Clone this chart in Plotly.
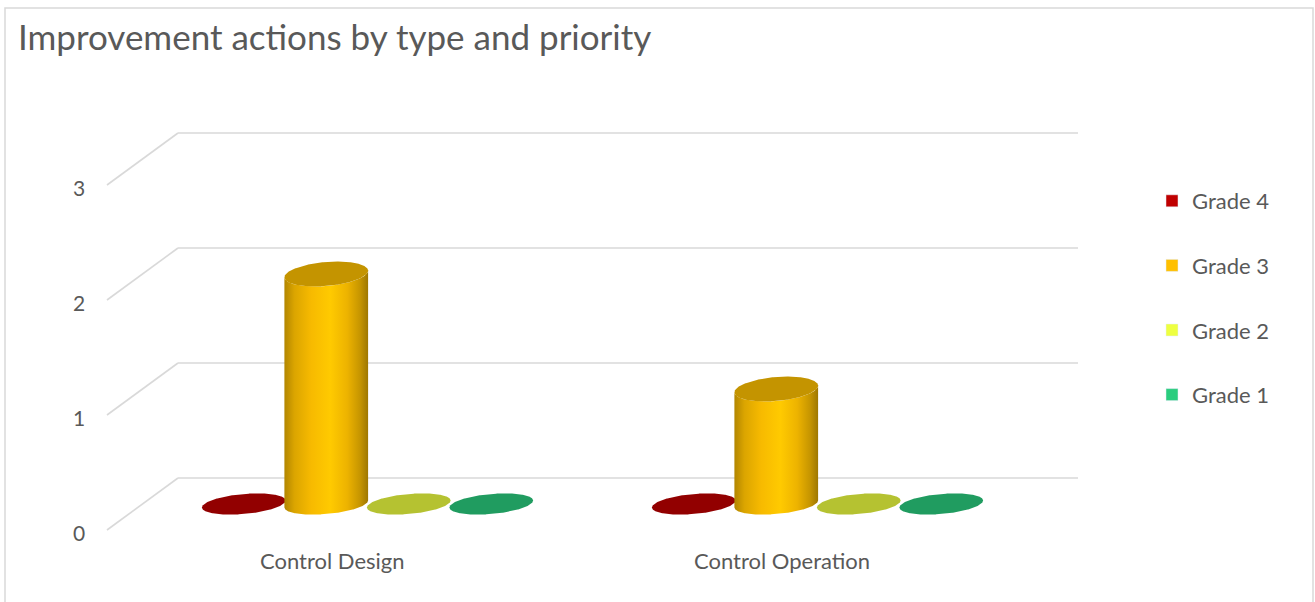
import numpy as np
import plotly.graph_objects as go

# ---------------- data ----------------
categories = ["Control Design", "Control Operation"]
series_names = ["Grade 4", "Grade 3", "Grade 2", "Grade 1"]
grade4 = [0, 0]
grade3 = [2, 1]
grade2 = [0, 0]
grade1 = [0, 0]
value_ticks = [0, 1, 2, 3]
tick_labels = ["0", "1", "2", "3"]

series_values = [grade4, grade3, grade2, grade1]
series_colors = ["#C00000", "#FFC000", "#EEFF41", "#2ACD7E"]

# ---------------- geometry (pixel scale of the 3D frame) ----------------
W, H = 1315, 602
PX_PER_CAT = 450.0      # pixels per category
PX_PER_VAL = 115.0      # pixels per value unit
ORIGIN_PX = (367.5, 504.0)  # pixel of (category 0, value 0) at mid depth
DEPTH_PX = (35.5, 26.0)     # half-depth offset (x right, y up)
SERIES_STEP_PX = 82.5
RAD_A_PX = 42.0
RAD_B_BOTTOM_PX = 10.0
RAD_B_TOP_PX = 12.0
TILT_DEG = 5.0

x_range = [(0 - ORIGIN_PX[0]) / PX_PER_CAT, (W - ORIGIN_PX[0]) / PX_PER_CAT]
y_range = [(ORIGIN_PX[1] - H) / PX_PER_VAL, ORIGIN_PX[1] / PX_PER_VAL]
DX = DEPTH_PX[0] / PX_PER_CAT
DY = DEPTH_PX[1] / PX_PER_VAL
X_LEFT, X_RIGHT = -0.5, len(categories) - 0.5

TEXT = "#595959"
GRID = "#D9D9D9"
FONT = "Lato"


def shade(hexcol, f):
    r, g, b = (int(hexcol[i:i + 2], 16) for i in (1, 3, 5))
    return "#%02X%02X%02X" % tuple(max(0, min(255, int(round(c * f)))) for c in (r, g, b))


def ellipse(cx, cy, b_px, n=360):
    t = np.linspace(0, 2 * np.pi, n, endpoint=False)
    th = np.radians(TILT_DEG)
    xp = RAD_A_PX * np.cos(t) * np.cos(th) - b_px * np.sin(t) * np.sin(th)
    yp = RAD_A_PX * np.cos(t) * np.sin(th) + b_px * np.sin(t) * np.cos(th)
    return cx + xp / PX_PER_CAT, cy + yp / PX_PER_VAL, xp


fig = go.Figure()

# ---------------- 3D frame grid lines ----------------
shapes = []
for v in value_ticks:
    shapes.append(dict(type="line", xref="x", yref="y",
                       x0=X_LEFT + DX, x1=X_RIGHT + DX, y0=v + DY, y1=v + DY,
                       line=dict(color=GRID, width=1.6), layer="below"))
    shapes.append(dict(type="line", xref="x", yref="y",
                       x0=X_LEFT - DX, x1=X_LEFT + DX, y0=v - DY, y1=v + DY,
                       line=dict(color=GRID, width=1.6), layer="below"))
# chart area border
shapes.append(dict(type="rect", xref="paper", yref="paper",
                   x0=5 / W, x1=1313 / W, y0=-0.05, y1=(H - 8) / H,
                   line=dict(color=GRID, width=1.5), layer="below"))

# ---------------- flat discs for zero values ----------------
n_series = len(series_names)
for j, (name, vals, col) in enumerate(zip(series_names, series_values, series_colors)):
    for i, v in enumerate(vals):
        if v == 0:
            cx = i + (j - (n_series - 1) / 2) * SERIES_STEP_PX / PX_PER_CAT
            ex, ey, _ = ellipse(cx, 0, RAD_B_BOTTOM_PX)
            fig.add_trace(go.Scatter(x=np.append(ex, ex[0]), y=np.append(ey, ey[0]),
                                     mode="lines", fill="toself", fillcolor=shade(col, 0.76),
                                     line=dict(width=0), showlegend=False, hoverinfo="skip"))

# ---------------- cylinders ----------------
for j, (name, vals, col) in enumerate(zip(series_names, series_values, series_colors)):
    for i, v in enumerate(vals):
        if v == 0:
            continue
        cx = i + (j - (n_series - 1) / 2) * SERIES_STEP_PX / PX_PER_CAT
        bx, by, bxp = ellipse(cx, 0, RAD_B_BOTTOM_PX)
        tx, ty, txp = ellipse(cx, v, RAD_B_TOP_PX)
        iL, iR = int(np.argmin(bxp)), int(np.argmax(bxp))
        jL, jR = int(np.argmin(txp)), int(np.argmax(txp))
        idx_b = np.arange(iL, iR + 1) if iR > iL else np.r_[np.arange(iL, len(bx)), np.arange(0, iR + 1)]
        idx_t = np.arange(jL, jR + 1) if jR > jL else np.r_[np.arange(jL, len(tx)), np.arange(0, jR + 1)]
        px = np.concatenate([bx[idx_b], tx[idx_t][::-1], [bx[idx_b][0]]])
        py = np.concatenate([by[idx_b], ty[idx_t][::-1], [by[idx_b][0]]])
        cs = [[0.0, shade(col, 0.70)], [0.12, shade(col, 0.86)], [0.32, shade(col, 0.97)],
              [0.55, shade(col, 1.05)], [0.75, shade(col, 0.93)], [0.9, shade(col, 0.78)],
              [1.0, shade(col, 0.62)]]
        fig.add_trace(go.Scatter(x=px, y=py, mode="lines", fill="toself",
                                 fillgradient=dict(type="horizontal", colorscale=cs),
                                 line=dict(width=0), showlegend=False, hoverinfo="skip"))
        fig.add_trace(go.Scatter(x=np.append(tx, tx[0]), y=np.append(ty, ty[0]),
                                 mode="lines", fill="toself", fillcolor=shade(col, 0.77),
                                 line=dict(width=0), showlegend=False, hoverinfo="skip"))

# ---------------- legend entries ----------------
for name, col in zip(series_names, series_colors):
    fig.add_trace(go.Bar(x=[None], y=[None], name=name, marker_color=col,
                         legendgroup=name, showlegend=True, hoverinfo="skip"))

# ---------------- labels ----------------
annotations = []
for v, lab in zip(value_ticks, tick_labels):
    annotations.append(dict(x=X_LEFT - DX, y=v - DY, xref="x", yref="y", text=lab,
                            showarrow=False, xanchor="right", yanchor="middle",
                            xshift=-20, yshift=-2, font=dict(family=FONT, size=21, color=TEXT)))
for i, cat in enumerate(categories):
    annotations.append(dict(x=i - DX, y=-DY, xref="x", yref="y", text=cat,
                            showarrow=False, xanchor="center", yanchor="top",
                            yshift=-15, font=dict(family=FONT, size=22, color=TEXT)))

fig.update_layout(
    width=W, height=H,
    margin=dict(l=0, r=0, t=0, b=0),
    paper_bgcolor="white", plot_bgcolor="white",
    title=dict(text="Improvement actions by type and priority", x=18 / W, xanchor="left",
               y=1 - 38 / H, yanchor="middle", font=dict(family=FONT, size=35, color=TEXT)),
    xaxis=dict(range=x_range, visible=False, fixedrange=True),
    yaxis=dict(range=y_range, visible=False, fixedrange=True),
    shapes=shapes, annotations=annotations,
    legend=dict(x=1152 / W, xanchor="left", y=1 - 180 / H, yanchor="top",
                traceorder="grouped", tracegroupgap=33,
                font=dict(family=FONT, size=22, color=TEXT), bgcolor="rgba(0,0,0,0)"),
    showlegend=True,
)

fig.write_html("out.html")
